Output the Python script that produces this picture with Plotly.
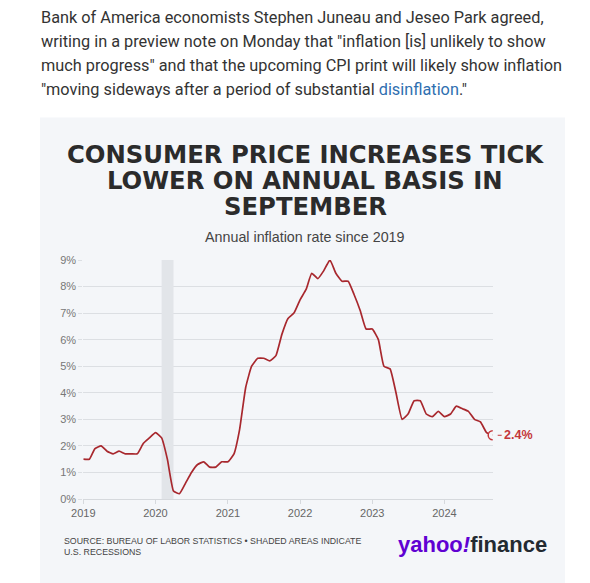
import plotly.graph_objects as go

# ---- data ----
months = [f"{y}-{m:02d}-01" for y in range(2019, 2025) for m in range(1, 13)][:69]
inflation = [
    1.5, 1.5, 1.9, 2.0, 1.8, 1.7, 1.8, 1.7, 1.7, 1.7, 2.1, 2.3,   # 2019
    2.5, 2.3, 1.5, 0.3, 0.2, 0.6, 1.0, 1.3, 1.4, 1.2, 1.2, 1.4,   # 2020
    1.4, 1.7, 2.6, 4.2, 5.0, 5.3, 5.3, 5.2, 5.4, 6.2, 6.8, 7.0,   # 2021
    7.5, 7.9, 8.5, 8.3, 8.6, 9.0, 8.5, 8.2, 8.2, 7.7, 7.1, 6.4,   # 2022
    6.4, 6.0, 5.0, 4.9, 4.0, 3.0, 3.2, 3.7, 3.7, 3.2, 3.1, 3.3,   # 2023
    3.1, 3.2, 3.5, 3.4, 3.3, 3.0, 2.9, 2.5, 2.4,                  # 2024
]
year_ticks = ["2019-01-01", "2020-01-01", "2021-01-01", "2022-01-01", "2023-01-01", "2024-01-01"]
year_labels = ["2019", "2020", "2021", "2022", "2023", "2024"]
recession = ("2020-02-01", "2020-04-01")
last_label = "2.4%"

article_lines = [
    'Bank of America economists Stephen Juneau and Jeseo Park agreed,',
    'writing in a preview note on Monday that "inflation [is] unlikely to show',
    'much progress" and that the upcoming CPI print will likely show inflation',
    '"moving sideways after a period of substantial <span style="color:#2f6fb0">disinflation</span>."',
]
title_lines = ["CONSUMER PRICE INCREASES TICK", "LOWER ON ANNUAL BASIS IN", "SEPTEMBER"]
subtitle = "Annual inflation rate since 2019"
source_lines = ["SOURCE: BUREAU OF LABOR STATISTICS • SHADED AREAS INDICATE", "U.S. RECESSIONS"]

W, H = 590, 583
CARD = "#f4f6f9"
RED = "#a8282e"
LABEL_RED = "#c4363a"
SANS = "Liberation Sans, Arial, sans-serif"
BODY = "Roboto, Liberation Sans, Arial, sans-serif"
TITLE = "DejaVu Sans, Liberation Sans, Arial, sans-serif"

def py(px):  # pixel y from top -> paper y
    return (H - px) / H

def pxx(px):
    return px / W

fig = go.Figure()
fig.add_trace(go.Scatter(
    x=months, y=inflation, mode="lines",
    line=dict(color=RED, width=1.7, shape="spline", smoothing=0.4),
    hoverinfo="skip", showlegend=False,
))
fig.add_trace(go.Scatter(
    x=[months[-1]], y=[inflation[-1]], mode="markers",
    marker=dict(size=9, color=CARD, line=dict(color=LABEL_RED, width=1.5)),
    hoverinfo="skip", showlegend=False,
))

shapes = [
    dict(type="rect", xref="paper", yref="paper", x0=pxx(40), x1=pxx(565), y0=-0.01, y1=py(117.5),
         fillcolor=CARD, line=dict(width=0), layer="below"),
    dict(type="rect", xref="x", yref="y", x0=recession[0], x1=recession[1], y0=0, y1=9,
         fillcolor="#e2e5e9", line=dict(width=0), layer="between"),
]

ann = []
for i, t in enumerate(article_lines):
    ann.append(dict(text=t, xref="paper", yref="paper", x=pxx(39), y=py(18 + 23.8 * i),
                    xanchor="left", yanchor="middle", showarrow=False,
                    font=dict(family=BODY, size=16.3, color="#333333")))
for i, t in enumerate(title_lines):
    ann.append(dict(text=f"<b>{t}</b>", xref="paper", yref="paper", x=pxx(305), y=py(155 + 26 * i),
                    xanchor="center", yanchor="middle", showarrow=False,
                    font=dict(family=TITLE, size=24.3, color="#2b2b2b")))
ann.append(dict(text=subtitle, xref="paper", yref="paper", x=pxx(305), y=py(237),
                xanchor="center", yanchor="middle", showarrow=False,
                font=dict(family=SANS, size=14.3, color="#444444")))
for i, t in enumerate(source_lines):
    ann.append(dict(text=t, xref="paper", yref="paper", x=pxx(62), y=py(541 + 11 * i),
                    xanchor="left", yanchor="middle", showarrow=False,
                    font=dict(family=SANS, size=8.8, color="#444444")))
ann.append(dict(text='<b><span style="color:#6001d2">yahoo<i>!</i></span><span style="color:#232a31">finance</span></b>',
                xref="paper", yref="paper", x=pxx(396), y=py(544), xanchor="left", yanchor="middle",
                showarrow=False, font=dict(family=SANS, size=22)))
ann.append(dict(text=f"<b>{last_label}</b>", x=months[-1], y=inflation[-1], xref="x", yref="y",
                showarrow=True, arrowhead=0, arrowwidth=1, arrowcolor=LABEL_RED, ax=9, ay=0,
                standoff=5, xanchor="left", font=dict(family=SANS, size=12.5, color=LABEL_RED)))

fig.update_layout(
    width=W, height=H, autosize=False,
    margin=dict(l=0, r=0, t=0, b=0, pad=0, autoexpand=False),
    paper_bgcolor="white", plot_bgcolor="rgba(0,0,0,0)",
    showlegend=False, hovermode=False,
    shapes=shapes, annotations=ann,
    xaxis=dict(domain=[pxx(83.3), pxx(492.7)], type="date", automargin=False,
               range=[months[0], months[-1]], tickvals=year_ticks, ticktext=year_labels,
               showgrid=False, zeroline=False, showline=True, linecolor="#d6d9dd", linewidth=1,
               ticks="outside", ticklen=4, tickcolor="#d6d9dd",
               tickfont=dict(family=SANS, size=11, color="#666666")),
    yaxis=dict(domain=[py(499), py(260)], range=[0, 9], dtick=1, ticksuffix="%", automargin=False,
               showgrid=True, gridcolor="#dcdfe3", gridwidth=1, zeroline=False, showline=False,
               ticks="outside", ticklen=4, tickcolor="#dcdfe3",
               tickfont=dict(family=SANS, size=11, color="#777777")),
)

fig.write_html("out.html", config={"displayModeBar": False, "staticPlot": True},
               post_script="document.body.style.margin='0';document.body.style.overflow='hidden';")
